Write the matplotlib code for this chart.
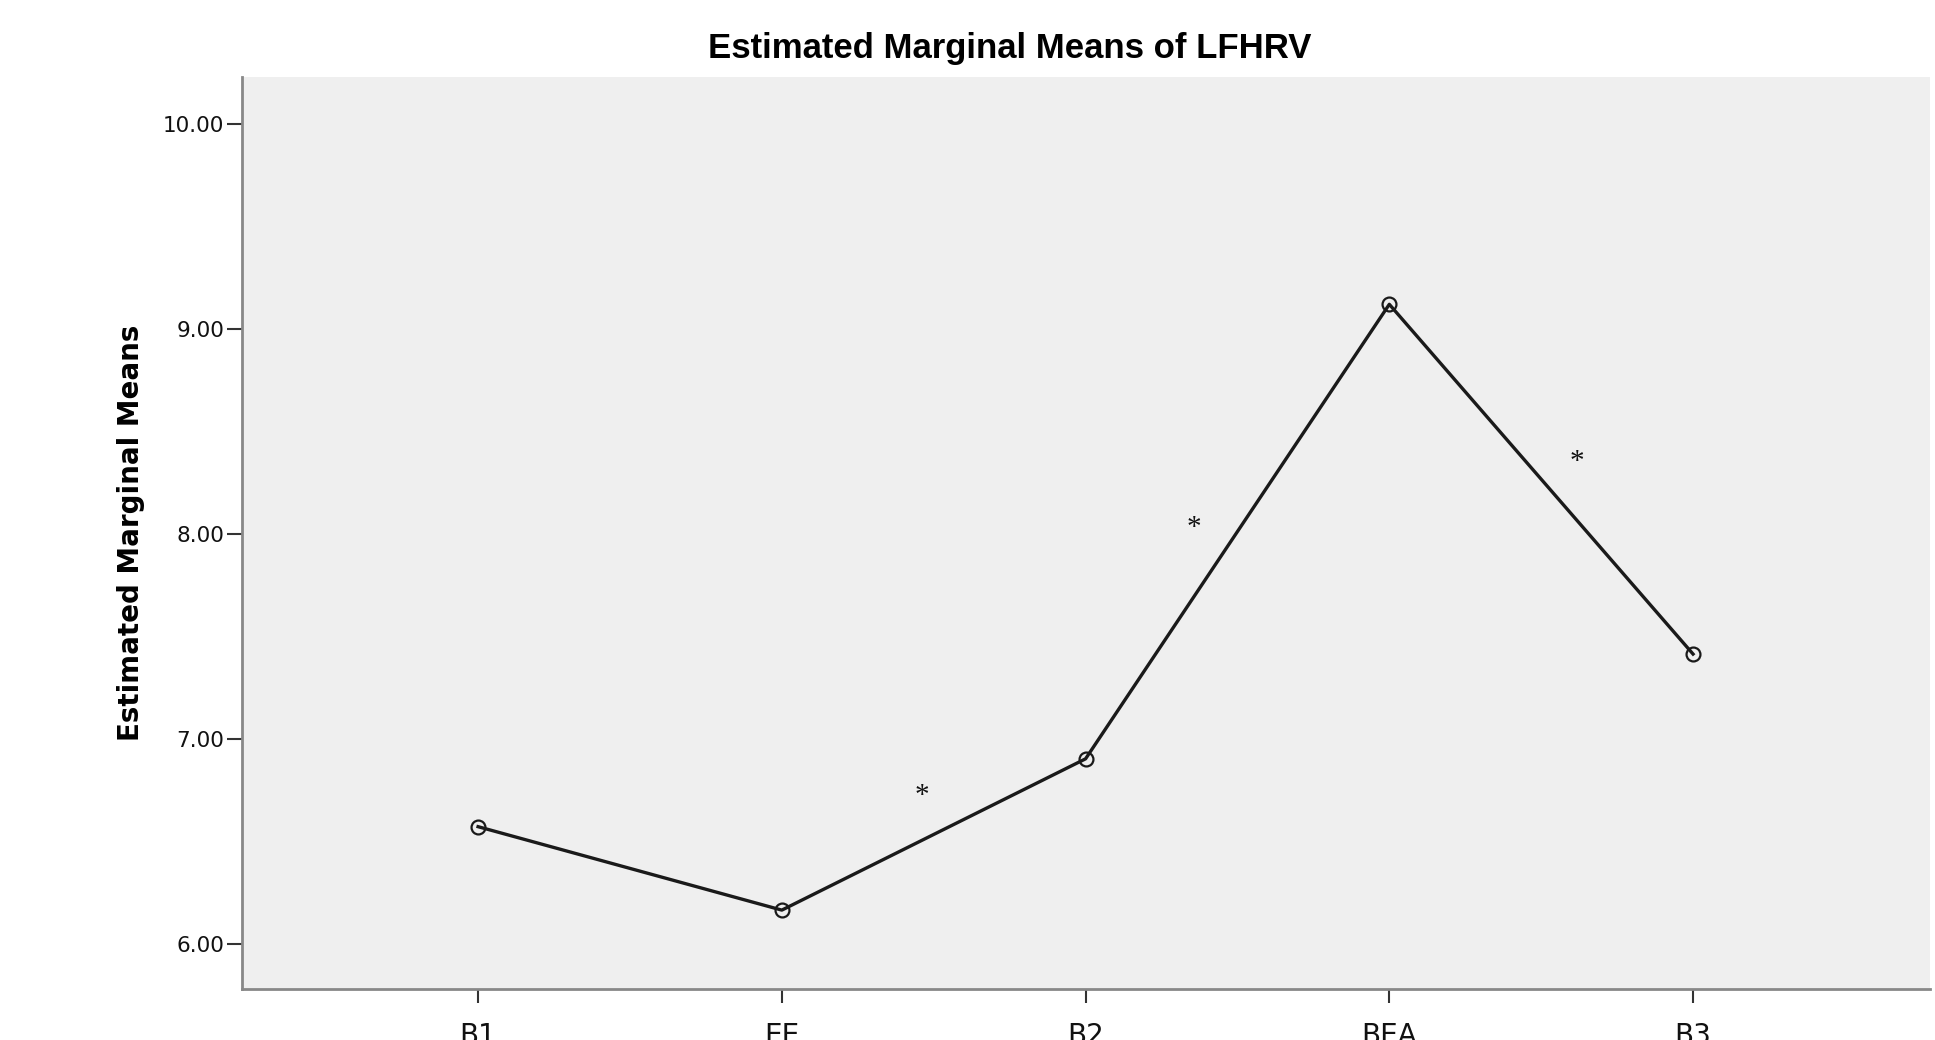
import matplotlib.pyplot as plt

# Estimated marginal means of LFHRV per condition
conditions = ["B1", "EE", "B2", "BEA", "B3"]
means = [6.572, 6.165, 6.903, 9.120, 7.414]

# significance marks (x position between conditions, y value)
star_x = [1.462, 2.357, 3.617]
star_y = [6.756, 8.063, 8.385]

y_ticks = [6.0, 7.0, 8.0, 9.0, 10.0]

fig = plt.figure(figsize=(19.35, 10.40), dpi=100)
ax = fig.add_axes([0.1251, 0.049, 0.8723, 0.877])
ax.set_facecolor("#efefef")

x = list(range(len(conditions)))
ax.plot(x, means, color="#1a1a1a", linewidth=2.4, marker="o", markersize=10,
        markerfacecolor="none", markeredgecolor="#1a1a1a", markeredgewidth=1.6)

for sx, sy in zip(star_x, star_y):
    ax.annotate("*", xy=(sx, sy), xytext=(0, -10), textcoords="offset points",
                ha="center", va="baseline", fontsize=21,
                family=["Liberation Serif", "DejaVu Serif"], color="#111111")

ax.set_xlim(-0.777, 4.78)
ax.set_ylim(5.78, 10.229)
ax.set_xticks(x)
ax.set_xticklabels(conditions, fontsize=20, family="DejaVu Sans", color="#111111")
ax.set_yticks(y_ticks)
ax.set_yticklabels([f"{v:.2f}" for v in y_ticks], fontsize=15.5,
                   family="DejaVu Sans", color="#111111")
ax.tick_params(axis="y", direction="out", length=11, width=1.5, pad=2, color="#333333")
ax.tick_params(axis="x", direction="out", length=10, width=1.5, pad=14, color="#333333")

for side in ["top", "right"]:
    ax.spines[side].set_visible(False)
for side in ["left", "bottom"]:
    ax.spines[side].set_color("#888888")
    ax.spines[side].set_linewidth(2)

fig.text(0.522, 0.953, "Estimated Marginal Means of LFHRV", ha="center", va="center",
         fontsize=25, fontweight="bold", family=["Liberation Sans", "DejaVu Sans"])
fig.text(131 / 1935, 1 - 533 / 1040, "Estimated Marginal Means", rotation=90,
         ha="center", va="center", fontsize=20, fontweight="bold", family="DejaVu Sans")

fig.savefig("out.png", dpi=100)
